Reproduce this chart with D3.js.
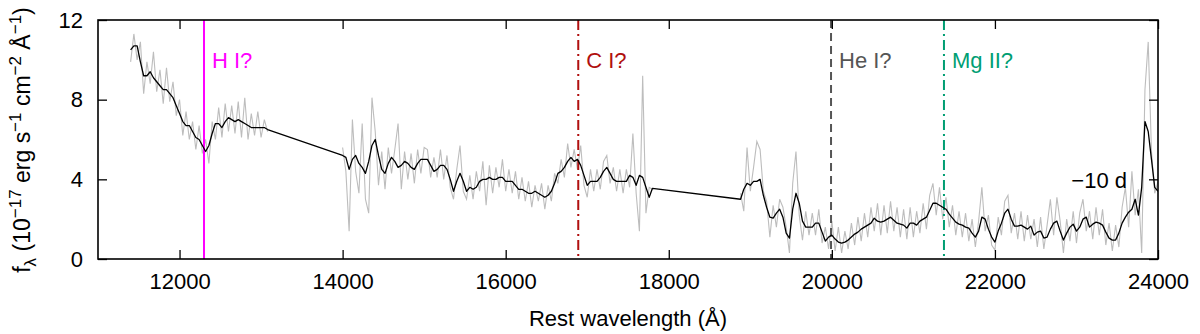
<!DOCTYPE html>
<html>
<head>
<meta charset="utf-8">
<script src="https://cdn.jsdelivr.net/npm/d3@7"></script>
<style>
  body { margin: 0; background: #fff; }
  svg text { font-family: "Liberation Sans", Arial, Helvetica, sans-serif; }
</style>
</head>
<body>
<svg id="chart" width="1200" height="334"></svg>
<script>
// spectrum sampling (rest wavelength, Angstrom)
const step = 40;
const seg1Start = 11400, seg2Start = 14000, seg3Start = 18880;

// smoothed flux (black) per segment
const smooth1 = [10.5,10.7,10.7,9.9,9.2,9.2,9.4,9.1,8.9,8.7,8.5,8.5,8.3,8.1,7.7,7.3,6.9,6.7,6.7,6.4,6.1,6.0,5.7,5.4,5.7,6.3,6.8,6.8,6.6,6.9,7.1,7.0,6.9,7.0,6.9,6.8,6.7,6.6,6.6,6.6,6.6,6.6,6.5];
const smooth2 = [5.2,5.1,4.5,5.0,5.2,4.8,4.6,4.3,4.9,5.7, 6.0,5.2,4.5,4.3,4.8,5.1,4.9,4.6,4.7,4.9,
  4.8,4.6,4.5,4.8,5.0,5.0,5.0,4.7,4.4,4.5, 4.7,4.7,4.5,4.0,3.4,3.9,4.3,3.9,3.4,3.6,
  3.5,3.6,3.9,4.0,4.0,4.1,4.0,4.0,4.1,4.1, 3.9,3.9,3.9,3.7,3.5,3.5,3.4,3.3,3.3,3.4,
  3.3,3.2,3.1,3.2,3.4,3.8,4.3,4.4,4.6,4.9, 5.1,4.9,5.0,4.7,4.2,3.7,3.9,3.9,3.9,4.1,
  4.4,4.6,4.3,4.0,3.9,3.9,3.9,3.9,4.2,4.1, 3.7,4.2,4.1,3.6,3.1,3.55];
const smooth3 = [3.0,3.5,3.8,3.7,3.9,3.9,4.0,3.2,2.6,2.1, 2.05,2.3,2.5,2.1,1.3,1.05,2.5,3.3,2.8,1.9,
  1.6,1.6,1.6,1.8,1.8,1.35,0.9,1.1,1.2,1.0, 0.85,0.8,0.85,0.95,1.1,1.25,1.35,1.5,1.6,1.7,
  1.8,2.05,1.9,1.85,1.9,2.0,2.1,1.95,1.8,1.75, 1.7,1.55,1.8,1.8,1.7,1.9,2.0,2.1,2.45,2.8,
  2.8,2.7,2.6,2.5,2.25,2.05,1.85,1.75,1.7,1.6, 1.55,1.3,1.1,1.4,2.1,2.0,1.5,1.1,0.85,1.4,
  1.8,2.3,2.5,2.0,1.65,1.65,1.7,1.6,1.5,1.65, 1.2,1.35,1.4,1.05,1.1,1.5,1.8,1.9,1.4,0.95,
  1.3,1.6,1.75,1.4,1.6,2.0,2.1,1.6,1.75,1.85, 1.8,1.7,1.35,1.05,0.95,0.95,1.3,1.8,2.1,2.35,
  2.5,3.0,2.2,3.6,6.9,6.4,5.0,3.6,3.4];

// raw flux (grey) per segment
const raw1 = [9.9,11.3,10.0,10.9,8.3,9.9,8.8,10.4,8.4,9.5,7.8,9.6,7.9,8.9,7.2,8.0,6.2,7.4,6.0,6.9,5.5,6.7,5.3,6.0,4.8,6.9,6.0,7.6,6.1,7.8,6.4,7.7,6.3,7.9,6.1,8.1,6.0,7.3,6.2,7.4,6.1,7.0,6.4];
const raw2 = [5.6,4.4,1.4,7.0,4.4,3.3,6.8,3.0,2.3,8.1, 6.4,3.7,5.4,3.5,5.6,4.3,5.5,6.8,3.5,5.4,
  4.0,5.3,3.8,5.5,4.3,5.6,5.5,4.1,5.1,4.1, 5.5,4.0,5.2,3.6,3.0,4.5,5.7,3.4,3.0,4.2,
  3.0,4.4,3.4,4.9,2.7,4.7,3.3,4.6,3.6,5.0, 3.4,4.5,3.3,4.4,3.0,4.1,2.9,3.9,2.6,3.7,
  2.9,3.8,2.5,3.7,2.9,4.3,3.8,5.0,4.1,5.8, 4.6,5.5,4.5,5.7,3.7,3.1,4.5,3.4,4.5,3.5,
  4.9,5.2,3.8,4.6,3.4,4.5,3.3,4.5,3.6,6.3, 3.3,1.4,9.2,2.3,3.6,3.5];
const raw3 = [3.3,2.4,5.6,3.4,4.6,5.9,5.5,3.4,2.9,1.1, 2.7,1.6,3.0,2.6,1.6,0.3,3.8,5.4,2.2,0.95,
  2.4,1.2,2.3,1.2,2.5,0.8,1.6,0.5,1.9,0.4, 1.6,0.3,1.4,0.5,1.8,0.7,2.1,0.9,2.3,1.1,
  2.6,1.4,2.8,1.2,2.7,1.3,2.9,1.4,2.6,1.1, 2.5,1.0,2.6,1.1,2.4,1.3,2.8,1.5,3.2,3.8,
  2.2,3.6,2.0,3.1,1.6,2.7,1.2,2.4,1.1,2.3, 0.9,2.0,0.6,1.9,3.6,1.4,2.2,0.7,0.45,2.1,
  1.2,2.9,3.2,1.3,2.3,1.0,2.4,0.9,2.2,1.0, 2.0,0.6,2.1,0.5,1.7,3.0,1.2,3.1,1.9,0.3,
  2.0,0.9,2.4,0.8,2.3,3.0,1.4,2.4,1.0,2.6, 1.2,2.5,0.7,1.8,0.4,1.7,0.6,2.6,3.6,1.6,
  4.4,2.2,3.5,0.3,8.5,10.9,5.4,3.3,3.9];

// line identifications
const lineNames = ["H I?", "C I?", "He I?", "Mg II?"];
const lineWaves = [12300, 16890, 19990, 21375];

const xTicks = [12000, 14000, 16000, 18000, 20000, 22000, 24000];
const yTicks = [0, 4, 8, 12];

var lineStyles = [
    { color: "#ff00ff", dash: null },
    { color: "#b0100f", dash: "10,4,2,4" },
    { color: "#555555", dash: "8,5" },
    { color: "#009e73", dash: "10,4,2,4" }
];

var svg = d3.select("#chart");
var plot = { l: 98, r: 1158, t: 20, b: 259 };

var x = d3.scaleLinear().domain([11000, 24000]).range([plot.l, plot.r]);
var y = d3.scaleLinear().domain([0, 12]).range([plot.b, plot.t]);

function toPoints(start, vals) {
    return vals.map((v, i) => ({ w: start + i * step, f: v }));
}

var segRaw = [toPoints(seg1Start, raw1), toPoints(seg2Start, raw2), toPoints(seg3Start, raw3)];
var smoothAll = toPoints(seg1Start, smooth1)
    .concat(toPoints(seg2Start, smooth2))
    .concat(toPoints(seg3Start, smooth3));

svg.append("clipPath").attr("id", "clip")
    .append("rect")
    .attr("x", plot.l).attr("y", plot.t)
    .attr("width", plot.r - plot.l).attr("height", plot.b - plot.t);

var line = d3.line().x(d => x(d.w)).y(d => y(d.f));

var dataG = svg.append("g").attr("clip-path", "url(#clip)");

// grey raw spectrum
dataG.selectAll(".raw")
    .data(segRaw)
    .enter().append("path")
    .attr("class", "raw")
    .attr("d", line)
    .attr("fill", "none")
    .attr("stroke", "#bdbdbd")
    .attr("stroke-width", 1.1);

// vertical line markers
dataG.selectAll(".ident")
    .data(lineWaves)
    .enter().append("line")
    .attr("class", "ident")
    .attr("x1", d => x(d)).attr("x2", d => x(d))
    .attr("y1", plot.t).attr("y2", plot.b)
    .attr("stroke", (d, i) => lineStyles[i].color)
    .attr("stroke-width", 2)
    .attr("stroke-dasharray", (d, i) => lineStyles[i].dash);

// smoothed spectrum
dataG.append("path")
    .datum(smoothAll)
    .attr("d", line)
    .attr("fill", "none")
    .attr("stroke", "#000")
    .attr("stroke-width", 1.3)
    .attr("stroke-linejoin", "round");

// labels for the lines
svg.selectAll(".identLabel")
    .data(lineWaves)
    .enter().append("text")
    .attr("class", "identLabel")
    .attr("x", d => x(d) + 8)
    .attr("y", 68)
    .attr("font-size", 22)
    .attr("fill", (d, i) => lineStyles[i].color)
    .text((d, i) => lineNames[i]);

svg.append("text")
    .attr("x", 1127).attr("y", 188)
    .attr("text-anchor", "end")
    .attr("font-size", 22)
    .text("\u221210 d");

// axes (ticks inward on all four sides)
var tickLen = 9;
function styleAxis(g) {
    g.select(".domain").remove();
    g.selectAll(".tick line").attr("stroke", "#000").attr("stroke-width", 1.3);
    g.selectAll(".tick text").attr("font-size", 22).attr("fill", "#000")
        .style("font-family", '"Liberation Sans", Arial, sans-serif');
}

svg.append("g")
    .attr("transform", `translate(0,${plot.b})`)
    .call(d3.axisBottom(x).tickValues(xTicks).tickFormat(d3.format("d"))
        .tickSizeInner(-tickLen).tickSizeOuter(0).tickPadding(14))
    .call(styleAxis);

svg.append("g")
    .attr("transform", `translate(0,${plot.t})`)
    .call(d3.axisTop(x).tickValues(xTicks).tickSizeInner(-tickLen).tickSizeOuter(0).tickFormat(""))
    .call(styleAxis);

svg.append("g")
    .attr("transform", `translate(${plot.l},0)`)
    .call(d3.axisLeft(y).tickValues(yTicks).tickFormat(d3.format("d"))
        .tickSizeInner(-tickLen).tickSizeOuter(0).tickPadding(15))
    .call(styleAxis);

svg.append("g")
    .attr("transform", `translate(${plot.r},0)`)
    .call(d3.axisRight(y).tickValues(yTicks).tickSizeInner(-tickLen).tickSizeOuter(0).tickFormat(""))
    .call(styleAxis);

// frame
svg.append("rect")
    .attr("x", plot.l).attr("y", plot.t)
    .attr("width", plot.r - plot.l).attr("height", plot.b - plot.t)
    .attr("fill", "none")
    .attr("stroke", "#000")
    .attr("stroke-width", 1.6);

// axis titles
svg.append("text")
    .attr("x", (plot.l + plot.r) / 2)
    .attr("y", 326)
    .attr("text-anchor", "middle")
    .attr("font-size", 22)
    .text("Rest wavelength (\u00c5)");

var yTitle = svg.append("text")
    .attr("transform", "translate(30,140) rotate(-90)")
    .attr("text-anchor", "middle")
    .attr("font-size", 23);

var parts = [
    ["f", 0], ["\u03bb", 1], [" (10", 0], ["\u221217", 2], [" erg s", 0], ["\u22121", 2],
    [" cm", 0], ["\u22122", 2], [" \u00c5", 0], ["\u22121", 2], [")", 0]
];
var prevShift = 0;
parts.forEach(function (p) {
    var shift = p[1] === 1 ? 6 : p[1] === 2 ? -9 : 0;
    yTitle.append("tspan")
        .attr("dy", shift - prevShift)
        .attr("font-size", p[1] ? 17 : 23)
        .text(p[0]);
    prevShift = shift;
});
</script>
</body>
</html>
